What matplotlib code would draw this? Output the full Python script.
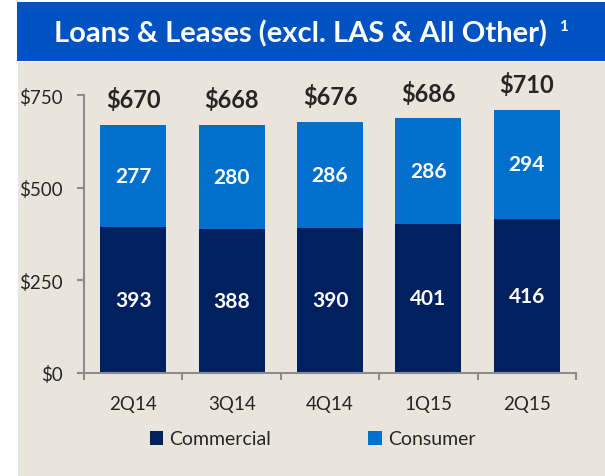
import matplotlib
matplotlib.use("Agg")
import matplotlib.pyplot as plt
from matplotlib.patches import Rectangle

categories = ["2Q14", "3Q14", "4Q14", "1Q15", "2Q15"]
commercial = [393, 388, 390, 401, 416]
consumer = [277, 280, 286, 286, 294]
totals = [670, 668, 676, 686, 710]
yticks = [0, 250, 500, 750]
ytick_labels = ["$0", "$250", "$500", "$750"]
title = "Loans & Leases (excl. LAS & All Other)"

NAVY = "#002060"
BLUE = "#0070CC"
BG = "#E9E5DC"
BANNER = "#0052C2"
AXC = "#8C8C8C"
TXT = "#262626"

plt.rcParams['font.family'] = ['Lato', 'DejaVu Sans']

W, H = 605, 477
fig = plt.figure(figsize=(W/100, H/100), dpi=100)
fig.patch.set_facecolor("white")

# panel and banner
fig.add_artist(Rectangle((18/W, 0), 1 - 18/W, 1 - 63/H, transform=fig.transFigure,
                         facecolor=BG, edgecolor="none", zorder=0))
fig.add_artist(Rectangle((17/W, 1 - 62/H), 1 - 17/W, 59/H, transform=fig.transFigure,
                         facecolor=BANNER, edgecolor="none", zorder=0))
fig.text(301/W, 1 - 34/H, title, color="white", fontsize=21, fontweight="bold",
         ha="center", va="center")
fig.text(559/W, 1 - 27/H, "1", color="white", fontsize=11, fontweight="bold",
         ha="left", va="center")

ax = fig.add_axes([84/W, 1 - 373.7/H, (576 - 84)/W, (373.7 - 96)/H])
ax.set_facecolor("none")
x = list(range(len(categories)))
bw = 0.67
ax.bar(x, commercial, width=bw, color=NAVY, label="Commercial", zorder=2)
ax.bar(x, consumer, width=bw, bottom=commercial, color=BLUE, label="Consumer", zorder=2)

for i in x:
    ax.text(i, commercial[i] / 2, str(commercial[i]), color="white", fontsize=15,
            fontweight="bold", ha="center", va="center")
    ax.text(i, commercial[i] + consumer[i] / 2, str(consumer[i]), color="white",
            fontsize=15, fontweight="bold", ha="center", va="center")
    ax.annotate(f"${totals[i]}", (i, totals[i]), xytext=(0, 18), textcoords="offset pixels",
                ha="center", va="baseline", fontsize=17, fontweight="bold", color=TXT,
                annotation_clip=False)

ax.set_xlim(-0.5, len(categories) - 0.5)
ax.set_ylim(0, 750)
ax.set_yticks(yticks)
ax.set_yticklabels(ytick_labels)
ax.set_xticks(x)
ax.set_xticklabels(categories)
ax.set_xticks([i - 0.5 for i in range(len(categories) + 1)], minor=True)
ax.tick_params(axis="x", which="major", length=0, pad=16, labelsize=13.5, labelcolor=TXT)
ax.tick_params(axis="x", which="minor", length=5, width=1.5, color=AXC, direction="out")
ax.tick_params(axis="y", length=5, width=1.5, color=AXC, direction="out", pad=10,
               labelsize=13.5, labelcolor=TXT)
for s in ["top", "right"]:
    ax.spines[s].set_visible(False)
for s in ["left", "bottom"]:
    ax.spines[s].set_color(AXC)
    ax.spines[s].set_linewidth(1.5)

handles, labels = ax.get_legend_handles_labels()
leg = fig.legend(handles, labels, loc="center", bbox_to_anchor=(312.5/W, 1 - 440/H),
                 ncol=2, frameon=False, fontsize=14, handlelength=0.7, handleheight=0.7,
                 handletextpad=0.3, columnspacing=5, labelcolor=TXT)

fig.savefig("out.png", dpi=100, facecolor=fig.get_facecolor())
